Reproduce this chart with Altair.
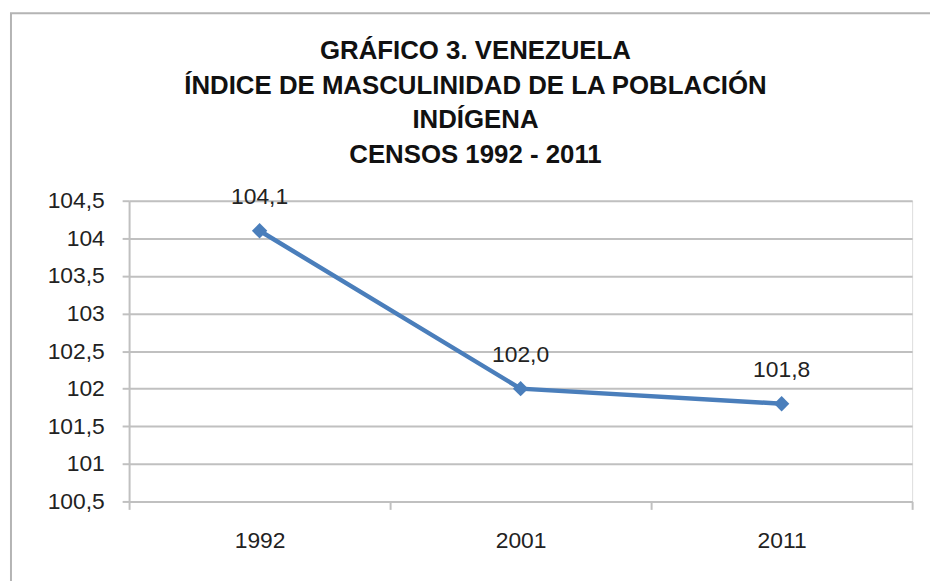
import altair as alt
import pandas as pd

years = ["1992", "2001", "2011"]
values = [104.1, 102.0, 101.8]
labels = ["104,1", "102,0", "101,8"]
y_ticks = [100.5, 101, 101.5, 102, 102.5, 103, 103.5, 104, 104.5]
title_lines = [
    "GRÁFICO 3. VENEZUELA",
    "ÍNDICE DE MASCULINIDAD DE LA POBLACIÓN",
    "INDÍGENA",
    "CENSOS 1992 - 2011",
]

df = pd.DataFrame({"year": years, "value": values, "label": labels})

GRID = "#c0c0c0"
BLUE = "#4a7ebb"
FONT = "Liberation Sans"

x_enc = alt.X(
    "year:N",
    sort=years,
    bandPosition=0.5,
    scale=alt.Scale(type="band", paddingInner=0, paddingOuter=0),
    axis=alt.Axis(
        title=None,
        tickBand="extent",
        labelAngle=0,
        labelFontSize=23,
        labelColor="#222222",
        labelFont=FONT,
        labelPadding=20,
        tickSize=8,
        tickColor=GRID,
        tickWidth=2,
        domainColor=GRID,
        domainWidth=2,
        grid=False,
    ),
)
y_enc = alt.Y(
    "value:Q",
    scale=alt.Scale(domain=[100.5, 104.5], zero=False, nice=False),
    axis=alt.Axis(
        title=None,
        values=y_ticks,
        labelExpr="replace(toString(datum.value), '.', ',')",
        labelFontSize=23,
        labelColor="#222222",
        labelFont=FONT,
        labelPadding=18,
        tickSize=7,
        tickColor=GRID,
        tickWidth=2,
        domainColor=GRID,
        domainWidth=2,
        grid=True,
        gridColor=GRID,
        gridWidth=2,
    ),
)

base = alt.Chart(df)
line = base.mark_line(color=BLUE, strokeWidth=4.5).encode(x=x_enc, y=y_enc)
pts = base.mark_point(shape="diamond", filled=True, color=BLUE, size=240, opacity=1).encode(x=x_enc, y=y_enc)
txt = base.mark_text(fontSize=23, font=FONT, color="#222222", baseline="bottom", dy=-22).encode(
    x=x_enc, y=y_enc, text="label:N"
)

frame = alt.Chart(alt.Data(values=[{}])).mark_rect(
    fill="transparent", stroke="#b4b4b4", strokeWidth=2
).encode(
    x=alt.value(-119), x2=alt.value(840), y=alt.value(-189), y2=alt.value(420)
)

title = alt.Chart(alt.Data(values=[{"t": "\n".join(title_lines)}])).mark_text(
    font=FONT,
    fontSize=26,
    fontWeight="bold",
    color="#111111",
    lineBreak="\n",
    lineHeight=35,
    align="center",
    baseline="alphabetic",
).encode(
    text="t:N", x=alt.value(349), y=alt.value(-143)
)

chart = alt.layer(frame, line, pts, txt, title).properties(
    width=789,
    height=303,
    padding={"left": 122, "top": 192, "right": 18, "bottom": 78},
    autosize=alt.AutoSizeParams(type="none"),
).configure_view(stroke=None).configure(background="white")

chart.save("out.html", embed_options={"renderer": "svg", "actions": False})
